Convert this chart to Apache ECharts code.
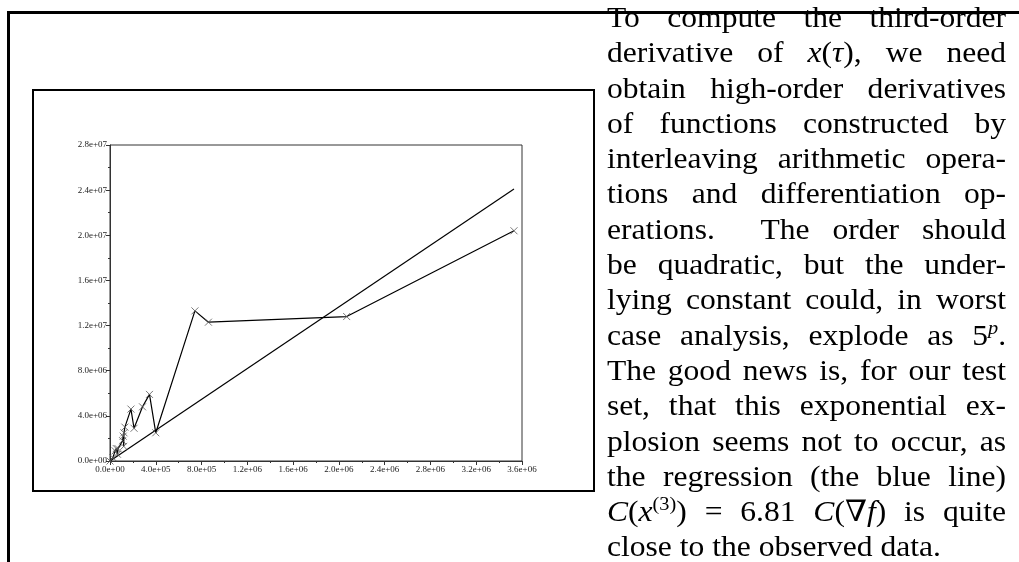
<!DOCTYPE html>
<html>
<head>
<meta charset="utf-8">
<script src="https://cdn.jsdelivr.net/npm/echarts@6/dist/echarts.min.js"></script>
<style>
  html, body { margin: 0; padding: 0; background: #fff; }
  #page { position: relative; width: 1019px; height: 562px; overflow: hidden; }
  #frameTop { position: absolute; left: 7px; top: 11px; width: 1012px; height: 0; border-top: 3px solid #000; }
  #frameLeft { position: absolute; left: 7px; top: 11px; width: 0; height: 551px; border-left: 3px solid #000; }
  #box { position: absolute; left: 32px; top: 89px; width: 559px; height: 399px; border: 2px solid #000; }
  #chart { position: absolute; left: 0; top: 0; width: 1019px; height: 562px; }
  #text { position: absolute; left: 607px; top: 0; width: 373px;
          transform-origin: 0 0; transform: scaleX(1.07);
          font-family: "Liberation Serif", "DejaVu Serif", serif; font-size: 29.5px; color: #000; }
  #text div { height: 35.3px; line-height: 35.3px; text-align: justify; text-align-last: justify; white-space: nowrap; }
  #text i { font-style: italic; }
  #text sup { font-size: 19px; line-height: 0; }
</style>
</head>
<body>
<div id="page">
  <div id="frameTop"></div>
  <div id="frameLeft"></div>
  <div id="box"></div>
  <div id="chart"></div>
  <div id="text">
    <div>To compute the third-order</div>
    <div>derivative of <i>x</i>(<i>τ</i>), we need</div>
    <div>obtain high-order derivatives</div>
    <div>of functions constructed by</div>
    <div>interleaving arithmetic opera-</div>
    <div>tions and differentiation op-</div>
    <div>erations. &nbsp;The order should</div>
    <div>be quadratic, but the under-</div>
    <div>lying constant could, in worst</div>
    <div>case analysis, explode as 5<sup><i>p</i></sup>.</div>
    <div>The good news is, for our test</div>
    <div>set, that this exponential ex-</div>
    <div>plosion seems not to occur, as</div>
    <div>the regression (the blue line)</div>
    <div><i>C</i>(<i>x</i><sup>(3)</sup>) = 6.81 <i>C</i>(∇<i>f</i>) is quite</div>
    <div style="text-align-last: left;">close to the observed data.</div>
  </div>
</div>
<script>
// observed cost: C(grad f) on x, C(x^(3)) on y
var obsX = [0, 25000, 45000, 55000, 65000, 70000, 110000, 115000, 120000, 122000, 130000,
            183000, 210000, 284000, 345000, 400000, 742000, 860000, 2068000, 3530000];
var obsY = [0, 300000, 900000, 1100000, 600000, 1100000, 1800000, 2200000, 1300000, 2500000, 3000000,
            4600000, 2900000, 4800000, 5900000, 2500000, 13300000, 12300000, 12800000, 20400000];
// regression line endpoints
var regX = [0, 3530000];
var regY = [0, 24100000];
var xTicks = [0, 400000, 800000, 1200000, 1600000, 2000000, 2400000, 2800000, 3200000, 3600000];
var yTicks = [0, 4000000, 8000000, 12000000, 16000000, 20000000, 24000000, 28000000];

function sci(v) {
    var p = v.toExponential(1).split('e');
    var sign = p[1].charAt(0);
    var e = p[1].slice(1);
    if (e.length < 2) e = '0' + e;
    return p[0] + 'e' + sign + e;
}

function pairs(xs, ys) {
    var out = [];
    for (var i = 0; i < xs.length; i++) out.push([xs[i], ys[i]]);
    return out;
}

var dom = document.getElementById('chart');
var chart = echarts.init(dom);

var labelFont = { fontFamily: 'Liberation Serif', fontSize: 9, color: '#222' };

var option = {
    animation: false,
    grid: {
        left: 110, top: 145, width: 412, height: 316,
        show: true, borderColor: '#333', borderWidth: 1
    },
    xAxis: {
        type: 'value',
        min: xTicks[0], max: xTicks[xTicks.length - 1], interval: 400000,
        splitLine: { show: false },
        axisLine: { lineStyle: { color: '#333', width: 1 } },
        axisTick: { inside: false, length: 4, lineStyle: { color: '#333' } },
        minorTick: { show: true, splitNumber: 2, length: 2, lineStyle: { color: '#333' } },
        axisLabel: Object.assign({ margin: 4, formatter: sci }, labelFont)
    },
    yAxis: {
        type: 'value',
        min: yTicks[0], max: yTicks[yTicks.length - 1], interval: 4000000,
        splitLine: { show: false },
        axisLine: { lineStyle: { color: '#333', width: 1 } },
        axisTick: { inside: false, length: 4, lineStyle: { color: '#333' } },
        minorTick: { show: true, splitNumber: 2, length: 2, lineStyle: { color: '#333' } },
        axisLabel: Object.assign({ margin: 3, formatter: sci }, labelFont)
    },
    series: [
        {
            name: 'regression',
            type: 'line',
            data: pairs(regX, regY),
            showSymbol: false,
            lineStyle: { color: '#000', width: 1.2 }
        },
        {
            name: 'observed',
            type: 'line',
            data: pairs(obsX, obsY),
            symbol: 'path://M0,0L10,10M10,0L0,10',
            symbolSize: 7,
            itemStyle: { color: 'none', borderColor: '#555', borderWidth: 0.8 },
            lineStyle: { color: '#000', width: 1.2 }
        }
    ]
};

chart.setOption(option);

window.addEventListener('resize', function() {
    chart.resize();
});
</script>
</body>
</html>
